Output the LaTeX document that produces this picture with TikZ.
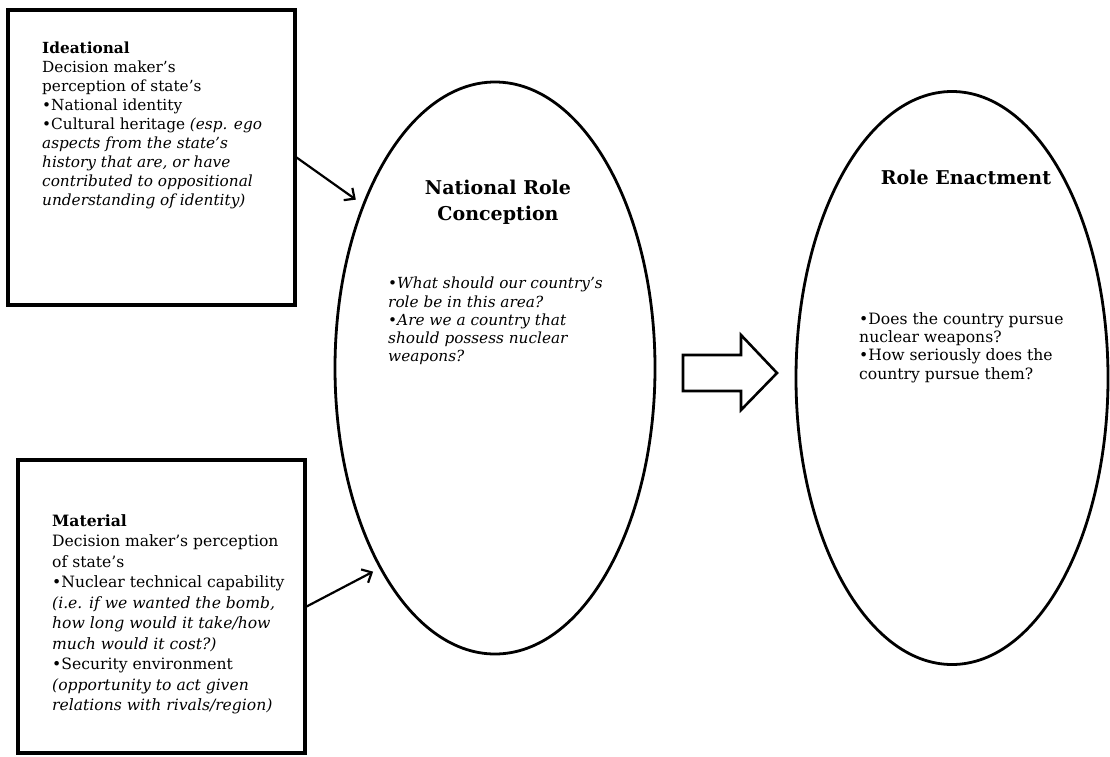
\documentclass[tikz,border=0pt]{standalone}
\usepackage{fontspec}
\setmainfont{DejaVu Serif}
\usetikzlibrary{arrows.meta,shapes.geometric}
\tikzset{
  box/.style={draw, line width=3.2pt, inner sep=0pt},
  oval/.style={draw, ellipse, line width=2.8pt, inner sep=0pt},
  txtA/.style={align=left, anchor=north west, inner sep=0pt, font=\fontsize{15.3}{19}\selectfont},
  txtB/.style={align=left, anchor=north west, inner sep=0pt, font=\fontsize{15.6}{20.5}\selectfont},
  txtC/.style={align=left, anchor=north west, inner sep=0pt, font=\fontsize{15.3}{18.2}\selectfont},
  txtD/.style={align=left, anchor=north west, inner sep=0pt, font=\fontsize{15.6}{18.4}\selectfont},
  ttl/.style={align=center, anchor=north, inner sep=0pt, font=\fontsize{19}{26}\selectfont\bfseries},
  conn/.style={line width=2.2pt, -{Straight Barb[length=8pt,width=15pt,line width=2.2pt]}},
  blockarrow/.style={draw, line width=2.6pt, miter limit=10}
}
\begin{document}
\begin{tikzpicture}[x=1pt,y=-1pt]
\useasboundingbox (0,0) rectangle (1110,756);

% boxes
\node[box, minimum width=287pt, minimum height=295pt] (ideal) at (151.5,157.5) {};
\node[box, minimum width=287pt, minimum height=293pt] (mat) at (161.5,606.5) {};

% ellipses
\node[oval, minimum width=320pt, minimum height=572pt] (nrc) at (495,368) {};
\node[oval, minimum width=312pt, minimum height=573pt] (re) at (952,378) {};

% box texts
\node[txtA] (idealtxt) at (42,42) {\textbf{Ideational}\\
Decision maker’s\\
perception of state’s\\
•National identity\\
•Cultural heritage \textit{(esp. ego}\\
\textit{aspects from the state’s}\\
\textit{history that are, or have}\\
\textit{contributed to oppositional}\\
\textit{understanding of identity)}};

\node[txtB] (mattxt) at (52,514) {\textbf{Material}\\
Decision maker’s perception\\
of state’s\\
•Nuclear technical capability\\
\textit{(i.e. if we wanted the bomb,}\\
\textit{how long would it take/how}\\
\textit{much would it cost?)}\\
•Security environment\\
\textit{(opportunity to act given}\\
\textit{relations with rivals/region)}};

% ellipse texts
\node[ttl] (nrcttl) at (498,180) {National Role\\Conception};
\node[txtC] (nrctxt) at (388,277) {•\textit{What should our country’s}\\
\textit{role be in this area?}\\
•\textit{Are we a country that}\\
\textit{should possess nuclear}\\
\textit{weapons?}};

\node[ttl] (rettl) at (966,170) {Role Enactment};
\node[txtD] (retxt) at (859,312) {•Does the country pursue\\
nuclear weapons?\\
•How seriously does the\\
country pursue them?};

% connectors
\draw[conn, shorten >=8pt] (ideal.east) -- (nrc.129.7);
\draw[conn, shorten >=7pt] (mat.east) -- (nrc.240.9);

% block arrow
\draw[blockarrow] (683,355) -- (741,355) -- (741,335) -- (777,373) -- (741,410) -- (741,391) -- (683,391) -- cycle;
\end{tikzpicture}
\end{document}
